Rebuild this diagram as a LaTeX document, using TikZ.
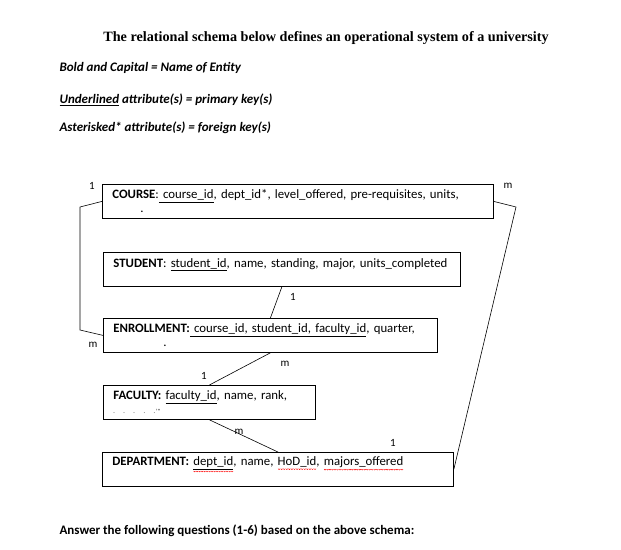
\documentclass[tikz,border=0pt]{standalone}
\usepackage{fontspec}
\setmainfont{Carlito}
\newfontfamily\titlefont{Liberation Serif}
\usetikzlibrary{positioning}

% red wavy underline (spell-check marks)
\newsavebox\wavebox
\newsavebox\wavetext
\newcommand\redwave[1]{\sbox\wavetext{#1}\vtop{\offinterlineskip\copy\wavetext\kern1.2pt
  \hbox to\wd\wavetext{\xleaders\copy\wavebox\hfill}}}

\tikzset{
  entity/.style={draw,line width=0.8pt,anchor=north west,minimum height=34pt,
    inner xsep=10pt,inner ysep=2pt,align=left,font=\fontsize{12.8}{14}\selectfont},
  card/.style={font=\fontsize{11}{12}\selectfont,inner sep=1pt},
  link/.style={line width=0.6pt},
  legend/.style={anchor=west,font=\fontsize{13}{15}\selectfont\bfseries\itshape}
}

\begin{document}
\sbox\wavebox{\begin{pgfpicture}\color{red}\pgfsetlinewidth{0.45pt}%
  \pgfpathmoveto{\pgfpoint{0pt}{0pt}}\pgfpathlineto{\pgfpoint{1pt}{-0.9pt}}%
  \pgfpathlineto{\pgfpoint{2pt}{0pt}}\pgfusepath{stroke}\end{pgfpicture}}%
\begin{tikzpicture}[x=1pt,y=-1pt]
  \useasboundingbox[fill=white] (0,0) rectangle (621,549);

  % heading and legend
  \node[font=\titlefont\fontsize{14.2}{16}\selectfont\bfseries] (title) at (326,38)
    {The relational schema below defines an operational system of a university};
  \node[legend] (lgbold) at (56,68) {Bold and Capital = Name of Entity};
  \node[legend] (lgkey) at (56,100) {\underline{Underlined} attribute(s) = primary key(s)};
  \node[legend] (lgfk) at (56,128) {Asterisked* attribute(s) = foreign key(s)};

  % entities
  \node[entity,text width=371pt] (course) at (102,184)
    {\textbf{COURSE}:\underline{ course\_id}, dept\_id*, level\_offered, pre-requisites, units,\\
     \hspace*{28pt}.};
  \node[entity,text width=337pt] (student) at (103,252)
    {\textbf{STUDENT}: \underline{student\_id}, name, standing, major, units\_completed\\[-5pt] \strut};
  \node[entity,text width=314pt] (enroll) at (103,318)
    {\textbf{ENROLLMENT:}\underline{ course\_id, student\_id, faculty\_id}, quarter,\\
     \hspace*{50pt}.};
  \node[entity,text width=192pt] (faculty) at (103,385)
    {\textbf{FACULTY:} \underline{faculty\_id}, name, rank,\\
     {\fontsize{6}{6}\selectfont.\ \ .\ \ .\ \ .\ \ .\,'*}};
  \node[entity,text width=331pt] (dept) at (102,452)
    {\textbf{DEPARTMENT:} \redwave{\underline{dept\_id}}, name, \redwave{HoD\_id}, \redwave{majors\_offered}\\[-5pt] \strut};

  % connectors
  \coordinate (cl1) at (80,207);
  \coordinate (cl2) at (80,330);
  \draw[link] (course.west) -- (cl1) -- (cl2) -- (enroll.west);
  \coordinate (cr1) at (516,207);
  \draw[link] (course.east) -- (cr1) -- (dept.east);
  \draw[link] (student.south) -- (enroll.north);
  \draw[link] (enroll.south) -- (faculty.north);
  \draw[link] (faculty.south) -- (dept.north);

  % cardinalities
  \node[card] (c1) at (92,186) {1};
  \node[card] (c2) at (93,345) {m};
  \node[card] (c3) at (508,186) {m};
  \node[card] (c4) at (293,297) {1};
  \node[card] (c5) at (285,364) {m};
  \node[card] (c6) at (204,376) {1};
  \node[card] (c7) at (239,432) {m};
  \node[card] (c8) at (393,443) {1};

  \node[anchor=west,font=\fontsize{13}{15}\selectfont\bfseries] (ask) at (56,531)
    {Answer the following questions (1-6) based on the above schema:};
\end{tikzpicture}
\end{document}
